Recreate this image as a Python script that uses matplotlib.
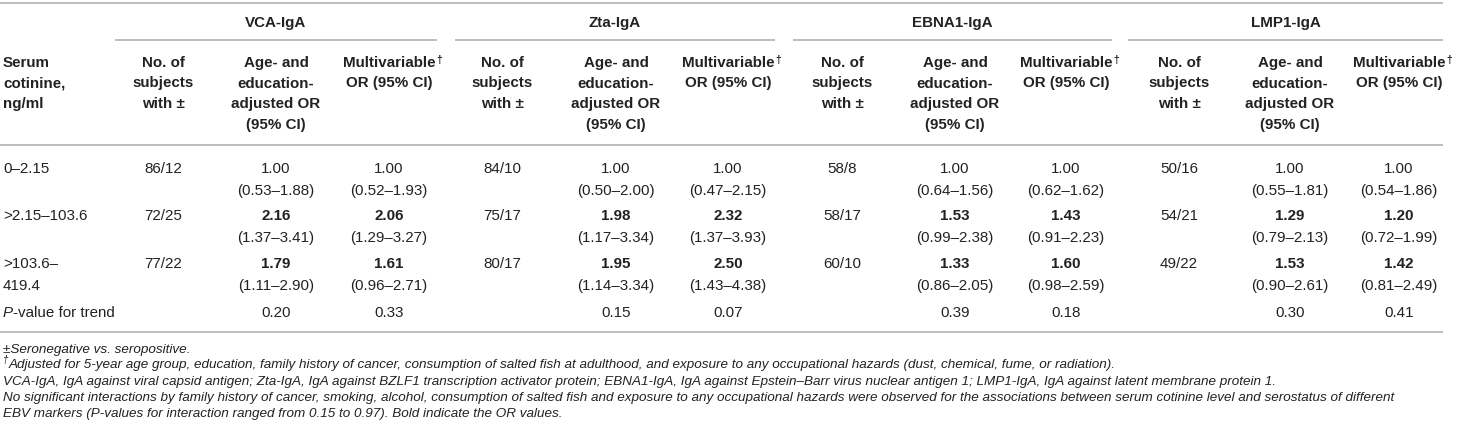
import matplotlib.pyplot as plt

plt.rcParams['font.family'] = ['Liberation Sans', 'DejaVu Sans']

# table content
markers = ["VCA-IgA", "Zta-IgA", "EBNA1-IgA", "LMP1-IgA"]
row_labels = [["0–2.15"], [">2.15–103.6"], [">103.6–", "419.4"]]

n_subjects = [["86/12", "72/25", "77/22"],
              ["84/10", "75/17", "80/17"],
              ["58/8", "58/17", "60/10"],
              ["50/16", "54/21", "49/22"]]

age_or = [[1.00, 2.16, 1.79],
          [1.00, 1.98, 1.95],
          [1.00, 1.53, 1.33],
          [1.00, 1.29, 1.53]]
age_ci = [[(0.53, 1.88), (1.37, 3.41), (1.11, 2.90)],
          [(0.50, 2.00), (1.17, 3.34), (1.14, 3.34)],
          [(0.64, 1.56), (0.99, 2.38), (0.86, 2.05)],
          [(0.55, 1.81), (0.79, 2.13), (0.90, 2.61)]]

multi_or = [[1.00, 2.06, 1.61],
            [1.00, 2.32, 2.50],
            [1.00, 1.43, 1.60],
            [1.00, 1.20, 1.42]]
multi_ci = [[(0.52, 1.93), (1.29, 3.27), (0.96, 2.71)],
            [(0.47, 2.15), (1.37, 3.93), (1.43, 4.38)],
            [(0.62, 1.62), (0.91, 2.23), (0.98, 2.59)],
            [(0.54, 1.86), (0.72, 1.99), (0.81, 2.49)]]

p_trend_age = [0.20, 0.15, 0.39, 0.30]
p_trend_multi = [0.33, 0.07, 0.18, 0.41]

footnotes = [
    "±Seronegative vs. seropositive.",
    "Adjusted for 5-year age group, education, family history of cancer, consumption of salted fish at adulthood, "
    "and exposure to any occupational hazards (dust, chemical, fume, or radiation).",
    "VCA-IgA, IgA against viral capsid antigen; Zta-IgA, IgA against BZLF1 transcription activator protein; "
    "EBNA1-IgA, IgA against Epstein–Barr virus nuclear antigen 1; LMP1-IgA, IgA against latent membrane protein 1.",
    "No significant interactions by family history of cancer, smoking, alcohol, consumption of salted fish and exposure "
    "to any occupational hazards were observed for the associations between serum cotinine level and serostatus of different",
    "EBV markers (P-values for interaction ranged from 0.15 to 0.97). Bold indicate the OR values.",
]

# layout (pixels)
W, H = 1464, 440
TXT = '#222222'
LINE = '#b8b8b8'
FS = 10.9
FS_NOTE = 9.7
group_left = [115, 455, 793, 1128]
group_right = [437, 775, 1112, 1443]
col_n = [163, 502, 842, 1179]
col_age = [276, 616, 955, 1290]
col_multi = [389, 728, 1066, 1399]
head_rows = [62, 82.5, 103, 123.5]
row_y = [(168, 190), (215, 237), (263, 285)]
p_y = 312
note_y = [348, 364, 380, 396, 412]
BL = 5  # baseline offset from visual centre

fig = plt.figure(figsize=(W / 100, H / 100), dpi=100)
ax = fig.add_axes([0, 0, 1, 1])
ax.set_xlim(0, W)
ax.set_ylim(H, 0)
ax.axis('off')


def put(x, y, s, ha='center', bold=False, size=FS, style='normal'):
    return ax.text(x, y + BL, s, ha=ha, va='baseline', fontsize=size,
                   fontweight='bold' if bold else 'normal', fontstyle=style, color=TXT)


def hline(x0, x1, y):
    ax.plot([x0, x1], [y, y], color=LINE, lw=1.3, solid_capstyle='butt')


# rules
hline(0, 1443, 3)
hline(0, 1443, 145)
hline(0, 1443, 332)

# header
for lab, line in zip(["Serum", "cotinine,", "ng/ml"], head_rows):
    put(3, line, lab, ha='left', bold=True)

for g, name in enumerate(markers):
    hline(group_left[g], group_right[g], 40)
    put((group_left[g] + group_right[g]) / 2, 22, name, bold=True)
    for line, s in zip(head_rows, ["No. of", "subjects", "with ±"]):
        put(col_n[g], line, s, bold=True)
    for line, s in zip(head_rows, ["Age- and", "education-", "adjusted OR", "(95% CI)"]):
        put(col_age[g], line, s, bold=True)
    t = put(col_multi[g], head_rows[0], "Multivariable", bold=True)
    ax.annotate("†", xy=(1, 1), xycoords=t, ha='left', va='top', fontsize=7.5,
                fontweight='bold', color=TXT, xytext=(0.5, 1), textcoords='offset points')
    put(col_multi[g], head_rows[1], "OR (95% CI)", bold=True)

# body
for r, (y1, y2) in enumerate(row_y):
    for k, s in enumerate(row_labels[r]):
        put(3, [y1, y2][k], s, ha='left')
    for g in range(len(markers)):
        put(col_n[g], y1, n_subjects[g][r])
        put(col_age[g], y1, f"{age_or[g][r]:.2f}", bold=r > 0)
        put(col_age[g], y2, f"({age_ci[g][r][0]:.2f}–{age_ci[g][r][1]:.2f})")
        put(col_multi[g], y1, f"{multi_or[g][r]:.2f}", bold=r > 0)
        put(col_multi[g], y2, f"({multi_ci[g][r][0]:.2f}–{multi_ci[g][r][1]:.2f})")

tp = put(3, p_y, "P", ha='left', style='italic')
ax.annotate("-value for trend", xy=(1, 0.5), xycoords=tp, ha='left', va='center',
            fontsize=FS, color=TXT)
for g in range(len(markers)):
    put(col_age[g], p_y, f"{p_trend_age[g]:.2f}")
    put(col_multi[g], p_y, f"{p_trend_multi[g]:.2f}")

# footnotes
for i, (y, s) in enumerate(zip(note_y, footnotes)):
    if i == 1:
        td = put(3, y, "†", ha='left', size=7, style='italic')
        td.set_y(y - 1)
        ax.annotate(s, xy=(1, 0), xycoords=td, ha='left', va='bottom', fontsize=FS_NOTE,
                    fontstyle='italic', color=TXT, xytext=(0, -4), textcoords='offset points')
    else:
        put(3, y, s, ha='left', size=FS_NOTE, style='italic')

fig.savefig("out.png", dpi=100)
